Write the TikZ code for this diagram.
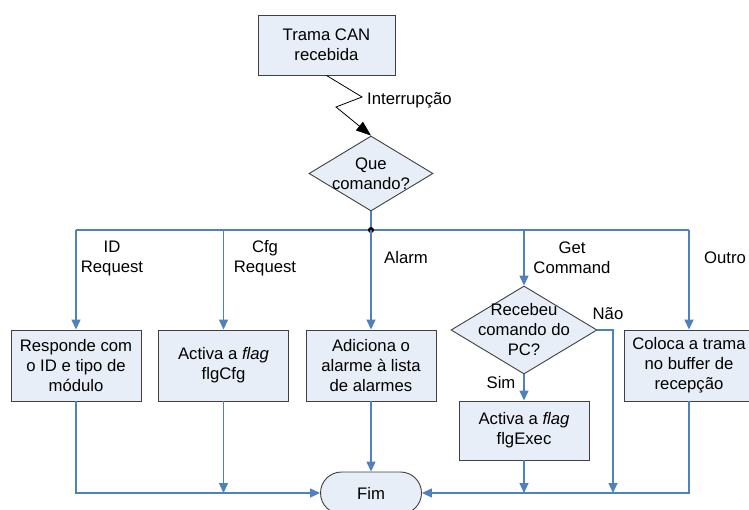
\documentclass[tikz,border=0pt]{standalone}
\usepackage{fontspec}
\setmainfont{Liberation Sans}
\usetikzlibrary{shapes.geometric,arrows.meta}
\definecolor{boxfill}{HTML}{E8EEF7}
\definecolor{boxline}{HTML}{404040}
\definecolor{flow}{HTML}{4F81BD}

\begin{document}
\begin{tikzpicture}[x=1pt,y=-1pt,
  font=\fontsize{16.7}{20}\selectfont,
  stepbox/.style={draw=boxline, fill=boxfill, line width=0.9pt,
    minimum width=130pt, minimum height=71pt, align=center, inner sep=0pt},
  decision/.style={diamond, draw=boxline, fill=boxfill, line width=0.9pt,
    inner sep=0pt},
  terminal/.style={draw=boxline, fill=boxfill, line width=0.9pt,
    rounded corners=21pt, minimum width=101pt, minimum height=42pt, inner sep=0pt},
  txt/.style={align=center, inner sep=0pt},
  flowline/.style={draw=flow, line width=1.3pt},
  flowarrow/.style={flowline, -{Triangle[length=10pt,width=9pt]}},
  irq/.style={draw=black, line width=0.8pt, -{Triangle[length=15pt,width=11pt]}}
]
\useasboundingbox (0,0) rectangle (749,510);
\clip (0,0) rectangle (749,510);

% start and first decision
\node[stepbox, minimum width=137pt, minimum height=60pt] (start) at (326.5,45) {Trama CAN\\recebida};
\node[decision, minimum width=124pt, minimum height=75pt] (cmd) at (371,173.5) {};
\node[txt] at (cmd.center) {Que\\comando?};

% interrupt (lightning) connector
\coordinate (z1) at (362,97);
\coordinate (z2) at (336,107);
\draw[irq] (start.south) -- (z1) -- (z2) -- (cmd.north);
\node[txt, anchor=west] (irqlbl) at (367,100) {Interrupção};

% action boxes
\node[stepbox] (b1) at (76,365.5) {Responde com\\o ID e tipo de\\módulo};
\node[stepbox] (b2) at (223.5,365.5) {Activa a \textit{flag}\\flgCfg};
\node[stepbox] (b3) at (371,365.5) {Adiciona o\\alarme à lista\\de alarmes};
\node[decision, minimum width=146pt, minimum height=88pt] (pc) at (524,330) {};
\node[txt] at (pc.center) {Recebeu\\comando do\\PC?};
\node[stepbox, minimum height=59pt] (b4) at (524,430.5) {Activa a \textit{flag}\\flgExec};
\node[stepbox] (b5) at (689,365.5) {Coloca a trama\\no buffer de\\recepção};
\node[terminal] (fim) at (371,493) {Fim};

% branching bus
\coordinate (split) at (371,230);
\draw[flowline] (cmd.south) -- (split);
\draw[flowline] (b1.north |- split) -- (b5.north |- split);
\fill[black] (split) circle (3pt);
\draw[flowarrow] (b1.north |- split) -- (b1.north);
\draw[flowarrow] (b2.north |- split) -- (b2.north);
\draw[flowarrow] (split) -- (b3.north);
\draw[flowarrow] (pc.north |- split) -- (pc.north);
\draw[flowarrow] (b5.north |- split) -- (b5.north);

% branch labels
\node[txt] (l1) at (112,258) {ID\\Request};
\node[txt] (l2) at (265,258) {Cfg\\Request};
\node[txt] (l3) at (406,258) {Alarm};
\node[txt] (l4) at (572,258) {Get\\Command};
\node[txt] (l5) at (725,258) {Outro};

% inner decision
\draw[flowarrow] (pc.south) -- (b4.north);
\node[txt] (sim) at (501,383) {Sim};
\coordinate (naoc) at (613,330);
\node[txt] (nao) at (608,314) {Não};

% joins to the end
\draw[flowarrow] (b1.south) |- (fim.west);
\draw[flowarrow] (b2.south) -- (b2.south |- fim.west);
\draw[flowarrow] (b3.south) -- (fim.north);
\draw[flowline] (b4.south |- fim.east) -- (b5.south |- fim.east);
\draw[flowarrow] (b4.south) -- (b4.south |- fim.east);
\draw[flowarrow] (pc.east) -| (naoc |- fim.east);
\draw[flowarrow] (b5.south) |- (fim.east);
\end{tikzpicture}
\end{document}
